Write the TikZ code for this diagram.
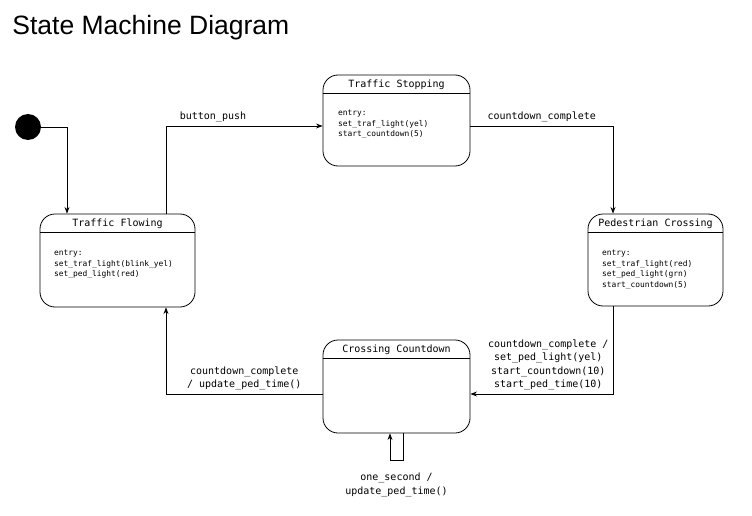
\documentclass[tikz,border=0pt]{standalone}
\usepackage{fontspec}
\setmainfont{Liberation Sans}
\setmonofont{DejaVu Sans Mono}
\usetikzlibrary{positioning,arrows.meta}

\begin{document}
\begin{tikzpicture}[x=1pt, y=-1pt, >=Stealth, line width=0.8pt,
    state/.style={draw, rounded corners=15pt},
    stname/.style={font=\ttfamily\fontsize{10}{12}\selectfont},
    entry/.style={anchor=north west, inner sep=0pt, align=left,
      font=\ttfamily\fontsize{7.9}{10.7}\selectfont},
    trans/.style={align=center, font=\ttfamily\fontsize{10}{13.5}\selectfont}]
  \useasboundingbox (0,0) rectangle (752,516);
  \node[anchor=base west, inner sep=0pt, font=\fontsize{26.5}{30}\selectfont] (title) at (12,35) {State Machine Diagram};

  % states
  \node[state, minimum width=155pt, minimum height=93pt] (1) at (117.5,260.5) {};
  \node[state, minimum width=147pt, minimum height=91pt] (2) at (396.5,120.5) {};
  \node[state, minimum width=135pt, minimum height=92pt] (3) at (655.5,260) {};
  \node[state, minimum width=147pt, minimum height=93pt] (4) at (396.5,386.5) {};
  \node[circle, fill, minimum size=26pt, inner sep=0pt] (0) at (28,127) {};

  \foreach \s in {1,2,3,4}
    \draw ([yshift=-19pt]\s.north west) -- ([yshift=-19pt]\s.north east);

  \node[stname] (1t) at ([yshift=-10pt]1.north) {Traffic Flowing};
  \node[stname] (2t) at ([yshift=-10.5pt]2.north) {Traffic Stopping};
  \node[stname] (3t) at ([yshift=-10pt]3.north) {Pedestrian Crossing};
  \node[stname] (4t) at ([yshift=-10pt]4.north) {Crossing Countdown};

  \node[entry] (1e) at ([xshift=14pt,yshift=-36pt]1.north west) {entry:\\set\_traf\_light(blink\_yel)\\set\_ped\_light(red)};
  \node[entry] (2e) at ([xshift=15pt,yshift=-35pt]2.north west) {entry:\\set\_traf\_light(yel)\\start\_countdown(5)};
  \node[entry] (3e) at ([xshift=14pt,yshift=-36pt]3.north west) {entry:\\set\_traf\_light(red)\\set\_ped\_light(grn)\\start\_countdown(5)};

  % transitions
  \draw[->] (0) -| ([xshift=-50.5pt]1.north);
  \draw[->] ([xshift=48.5pt]1.north) |- node[trans, pos=0.65, above] {button\_push} ([yshift=-5.5pt]2.west);
  \draw[->] ([yshift=-5.5pt]2.east) -| node[trans, pos=0.25, above] {countdown\_complete} ([xshift=-42.5pt]3.north);
  \draw[->] ([xshift=-42.5pt]3.south) |- node[trans, pos=0.727, above] {countdown\_complete /\\set\_ped\_light(yel)\\start\_countdown(10)\\start\_ped\_time(10)} ([yshift=-7.5pt]4.east);
  \draw[->] ([yshift=-7.5pt]4.west) -| node[trans, pos=0.25, above] {countdown\_complete\\/ update\_ped\_time()} ([xshift=48.5pt]1.south);
  \draw[->] ([xshift=6.5pt]4.south) -- ++(0,27) -| node[trans, pos=0.25, below=9pt] {one\_second /\\update\_ped\_time()} ([xshift=-6.5pt]4.south);
\end{tikzpicture}
\end{document}
